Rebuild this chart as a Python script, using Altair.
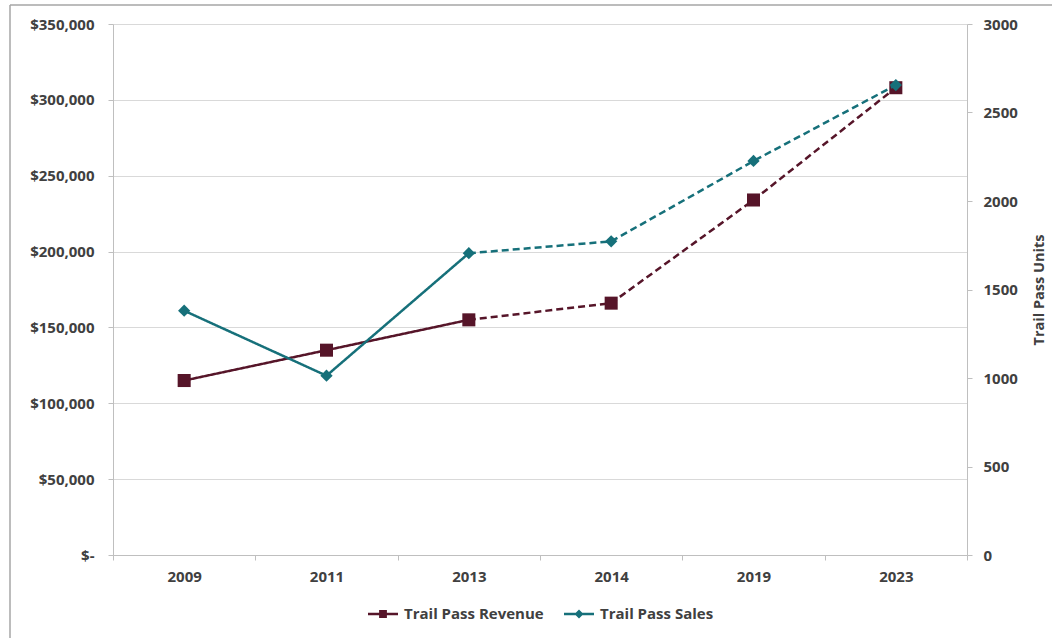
import altair as alt
import pandas as pd

years = ["2009", "2011", "2013", "2014", "2019", "2023"]
revenue = [115000, 135000, 155000, 166000, 234000, 308000]
sales = [1380, 1013, 1705, 1772, 2226, 2655]
series_names = ["Trail Pass Revenue", "Trail Pass Sales"]

REV_C = "#561529"
SAL_C = "#16707A"
FONT = "Open Sans"
TXT = "#404040"
AX = "#bfbfbf"
FS = 15


def segments(values):
    rows = []
    for i, (y, v) in enumerate(zip(years, values)):
        if i <= 2:
            rows.append({"year": y, "value": v, "seg": "solid"})
        if i >= 2:
            rows.append({"year": y, "value": v, "seg": "dashed"})
    return pd.DataFrame(rows)


rev_df = pd.DataFrame({"year": years, "value": revenue})
sal_df = pd.DataFrame({"year": years, "value": sales})
rev_seg = segments(revenue)
sal_seg = segments(sales)
leg_df = pd.DataFrame({"series": series_names, "year": years[:2], "value": revenue[:2]})

X = alt.X(
    "year:N",
    scale=alt.Scale(type="band", domain=years, paddingInner=0, paddingOuter=0),
    bandPosition=0.5,
    axis=alt.Axis(
        title=None, tickBand="extent", grid=False, domainColor=AX, tickColor=AX,
        tickSize=5, labelPadding=9, labelAngle=0, labelFont=FONT, labelFontSize=FS,
        labelFontWeight="bold", labelColor=TXT,
    ),
)

dash = alt.StrokeDash(
    "seg:N",
    scale=alt.Scale(domain=["solid", "dashed"], range=[[1, 0], [7, 4]]),
    legend=None,
)

Y_left = alt.Y(
    "value:Q",
    scale=alt.Scale(domain=[0, 350000], nice=False),
    axis=alt.Axis(
        title=None, values=list(range(0, 350001, 50000)),
        labelExpr="datum.value == 0 ? '$-\u00a0\u00a0' : '$' + format(datum.value, ',')",
        grid=True, gridColor="#d9d9d9", domainColor=AX, tickColor=AX, tickSize=5,
        labelPadding=14, labelFont=FONT, labelFontSize=FS, labelFontWeight="bold",
        labelColor=TXT,
    ),
)

Y_right = alt.Y(
    "value:Q",
    scale=alt.Scale(domain=[0, 3000], nice=False),
    axis=alt.Axis(
        orient="right", title="Trail Pass Units", values=list(range(0, 3001, 500)),
        format="d", grid=False, domainColor=AX, tickColor=AX, tickSize=5, labelPadding=11,
        labelFont=FONT, labelFontSize=FS, labelFontWeight="bold", labelColor=TXT,
        titleFont=FONT, titleFontSize=14.5, titleFontWeight="bold", titleColor=TXT,
        titleAngle=270, titlePadding=29,
    ),
)

rev_line = alt.Chart(rev_seg).mark_line(strokeWidth=2.5, color=REV_C).encode(
    x=X, y=Y_left, strokeDash=dash
)
rev_pts = alt.Chart(rev_df).mark_point(
    shape="square", filled=True, size=170, opacity=1, color=REV_C
).encode(x=X, y=Y_left)

sq_path = "M-1,-0.09H1V0.09H-1Z M-0.26,-0.26H0.26V0.26H-0.26Z"
dm_path = "M-1,-0.09H1V0.09H-1Z M0,-0.3L0.3,0L0,0.3L-0.3,0Z"
legend = alt.Legend(
    title=None, orient="none", direction="horizontal", legendX=255, legendY=575,
    symbolSize=900, symbolOpacity=1, symbolStrokeWidth=0, labelFont=FONT,
    labelFontSize=FS, labelFontWeight="bold", labelColor=TXT, columnPadding=20,
    labelOffset=6,
)
leg_layer = alt.Chart(leg_df).mark_point(filled=True, opacity=0, size=10).encode(
    x=X, y=Y_left,
    color=alt.Color("series:N", scale=alt.Scale(domain=series_names, range=[REV_C, SAL_C]), legend=legend),
    shape=alt.Shape("series:N", scale=alt.Scale(domain=series_names, range=[sq_path, dm_path]), legend=legend),
)

frame_df = pd.DataFrame({"a": [0]})
frame_top = alt.Chart(frame_df).mark_rule(color="#a6a6a6", strokeWidth=1.5).encode(
    x=alt.value(-103), x2=alt.value(1000), y=alt.value(-19)
)
frame_left = alt.Chart(frame_df).mark_rule(color="#a6a6a6", strokeWidth=1.5).encode(
    x=alt.value(-103), y=alt.value(-19), y2=alt.value(700)
)

left = alt.layer(rev_line, rev_pts, leg_layer, frame_top, frame_left)

sal_line = alt.Chart(sal_seg).mark_line(strokeWidth=2.5, color=SAL_C).encode(
    x=X, y=Y_right, strokeDash=dash
)
sal_pts = alt.Chart(sal_df).mark_point(
    shape="diamond", filled=True, size=150, opacity=1, color=SAL_C
).encode(x=X, y=Y_right)
right = alt.layer(sal_line, sal_pts)

chart = (
    alt.layer(left, right)
    .resolve_scale(y="independent")
    .properties(
        width=854, height=531,
        padding={"left": 113, "top": 24, "right": 85, "bottom": 83},
        autosize=alt.AutoSizeParams(type="none"),
        background="white",
    )
    .configure_view(stroke=None)
)

chart.save("out.html", embed_options={"renderer": "svg", "actions": False})
